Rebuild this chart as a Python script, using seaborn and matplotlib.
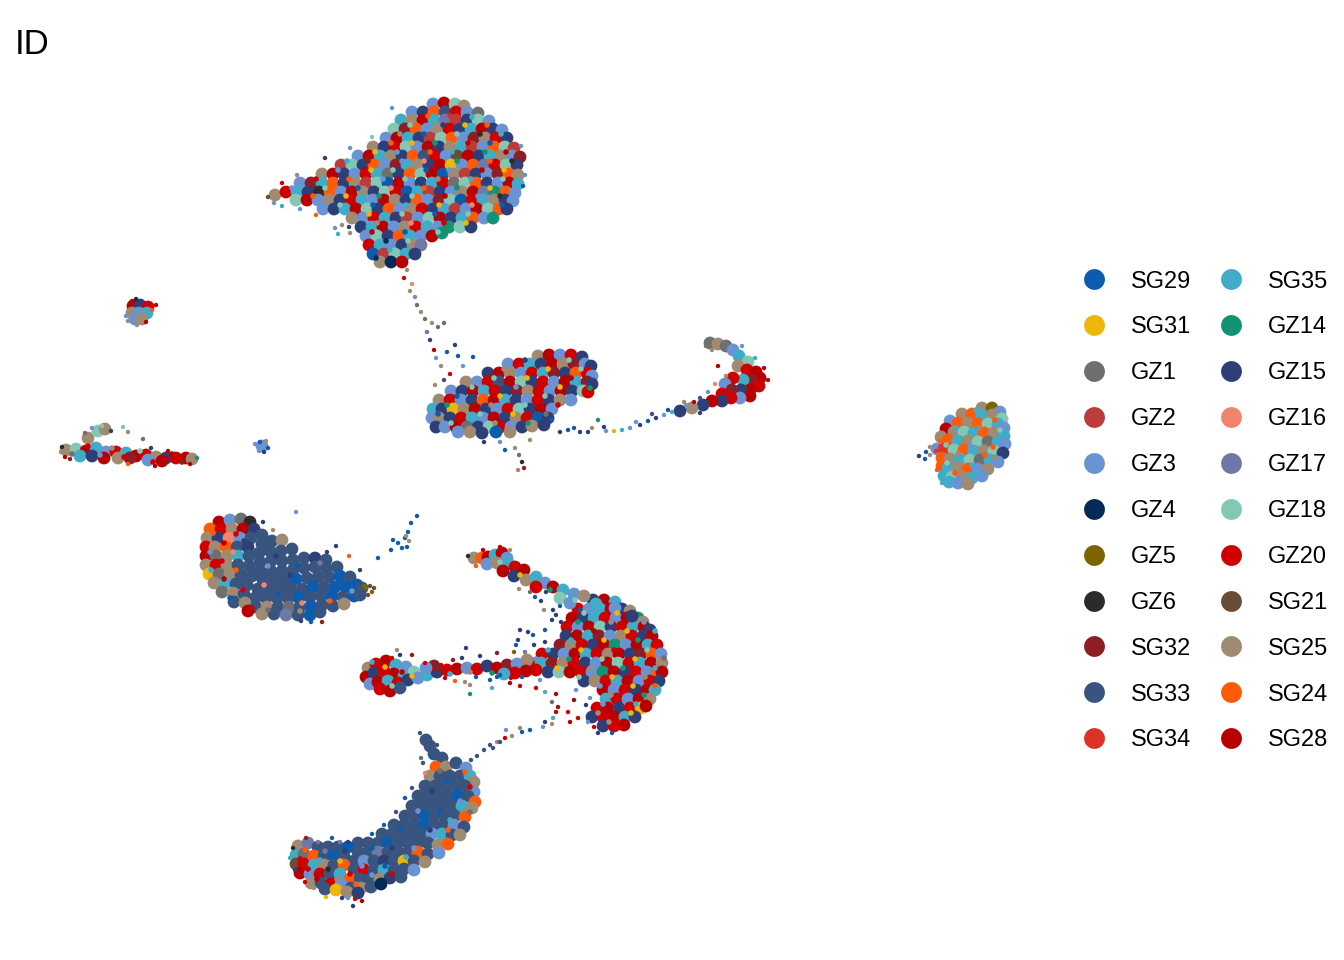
import matplotlib
matplotlib.use("Agg")
import matplotlib.pyplot as plt
import pandas as pd
import seaborn as sns

# ids in legend order
id_names = ["SG29", "SG31", "GZ1", "GZ2", "GZ3", "GZ4", "GZ5", "GZ6", "SG32", "SG33", "SG34",
            "SG35", "GZ14", "GZ15", "GZ16", "GZ17", "GZ18", "GZ20", "SG21", "SG25", "SG24", "SG28"]
id_colors = ["#0B5CAD", "#EDB60B", "#6F6F6F", "#BC3C3C", "#6A93D4", "#042B57", "#7C6500", "#2B2B2B",
             "#8E1D25", "#3A5480", "#DD3226", "#40ACC8", "#129474", "#2E3F78", "#F0856C", "#7079A6",
             "#83C8B4", "#D00000", "#674C36", "#A08A72", "#FF5A0A", "#B80000"]

top_blob = [
(433,104,4),(444,103,21),(455,104,16),(464,106,19),
(412,112,4),(423,112,13),(434,112,20),(445,112,9),(456,112,17),(467,112,4),(478,113,2),
(401,120,11),(412,120,19),(423,120,21),(434,120,11),(445,120,15),(456,120,3),(467,120,13),(478,120,16),(489,121,4),
(394,129,16),(405,129,8),(416,129,20),(427,129,4),(438,129,19),(449,129,17),(460,129,13),(471,129,11),(482,129,21),(493,129,13),(502,130,4),
(386,138,4),(397,138,21),(408,138,11),(419,138,13),(430,138,3),(441,138,16),(452,138,20),(463,138,4),(474,138,8),(485,138,19),(496,138,17),(507,138,13),
(373,147,19),(384,147,13),(395,147,17),(406,147,16),(417,147,4),(428,147,21),(439,147,13),(450,147,19),(461,147,11),(472,147,3),(483,147,4),(494,147,20),(505,147,16),(514,148,3),
(358,156,4),(369,156,21),(380,156,11),(391,156,19),(402,156,13),(413,156,20),(424,156,9),(435,156,17),(446,156,4),(457,156,18),(468,156,21),(479,156,13),(490,156,11),(501,156,19),(512,156,4),(520,157,8),
(341,165,3),(352,165,16),(363,165,13),(374,165,20),(385,165,4),(396,165,8),(407,165,11),(418,165,19),(429,165,13),(440,165,21),(451,165,1),(462,165,4),(473,165,20),(484,165,15),(495,165,17),(506,165,16),(517,165,13),
(322,174,19),(333,174,21),(344,174,13),(355,174,4),(366,174,17),(377,174,11),(388,174,2),(399,174,13),(410,174,20),(421,174,16),(432,174,21),(443,174,0),(454,174,19),(465,174,3),(476,174,13),(487,174,4),(498,174,8),(509,174,20),(518,175,19),
(300,183,4),(311,183,8),(322,183,11),(333,183,20),(344,183,13),(355,183,19),(366,183,3),(377,183,16),(388,183,0),(399,183,21),(410,183,4),(421,183,13),(432,183,11),(443,183,17),(454,183,2),(465,183,16),(476,183,20),(487,183,13),(498,183,4),(509,183,21),(518,184,11),
(275,195,19),(286,192,17),(297,192,11),(308,192,13),(319,192,7),(330,192,20),(341,192,4),(352,192,21),(363,192,19),(374,192,13),(385,192,16),(396,192,17),(407,192,0),(418,192,11),(429,192,3),(440,192,13),(451,192,4),(462,192,19),(473,192,21),(484,192,15),(495,192,12),(506,192,20),(515,193,4),
(296,200,16),(307,200,21),(318,200,4),(329,200,19),(340,200,13),(351,200,17),(362,200,11),(373,200,4),(384,200,21),(395,200,19),(406,200,13),(417,200,20),(428,200,4),(439,200,8),(450,200,16),(461,200,0),(472,200,17),(483,200,11),(494,200,19),(505,200,13),(513,201,4),
(323,209,4),(334,209,13),(345,209,11),(356,209,21),(367,209,16),(378,209,13),(389,209,20),(400,209,4),(411,209,19),(422,209,17),(433,209,13),(444,209,11),(455,209,3),(466,209,4),(477,209,21),(488,209,16),(499,209,20),(507,209,13),
(352,218,19),(363,218,4),(374,218,17),(385,218,11),(396,218,13),(407,218,3),(418,218,4),(429,218,16),(440,218,21),(451,218,13),(462,218,11),(473,218,20),(484,218,4),(493,218,12),
(361,227,13),(372,227,11),(383,227,21),(394,227,4),(405,227,19),(416,227,17),(427,227,11),(438,227,4),(449,227,12),(460,227,16),(471,227,13),
(366,236,4),(377,236,16),(388,236,13),(399,236,20),(410,236,11),(421,236,4),(432,236,21),(442,233,12),
(369,245,17),(380,245,11),(391,245,4),(402,245,13),(413,245,19),(421,245,15),
(373,254,0),(384,254,3),(395,254,16),(406,254,11),(415,254,13),
(380,262,19),(391,262,5),(402,262,21),
]

mid_blob = [
(538,356,19),(549,355,21),(560,355,4),(571,355,17),(582,357,13),
(508,364,4),(519,364,17),(530,364,11),(541,364,13),(552,364,21),(563,364,19),(574,364,8),(585,364,4),(591,366,13),
(488,373,13),(499,373,21),(510,373,19),(521,373,4),(532,373,17),(543,373,11),(554,373,8),(565,373,13),(576,373,20),(587,373,17),(592,376,4),
(466,382,19),(477,382,4),(488,382,17),(499,382,9),(510,382,21),(521,382,16),(532,382,13),(543,382,17),(554,382,4),(565,382,21),(576,382,11),(587,382,8),(592,384,13),
(451,391,4),(462,391,13),(473,391,21),(484,391,11),(495,391,17),(506,391,13),(517,391,8),(528,391,19),(539,391,17),(550,391,4),(561,391,21),(572,391,13),(583,391,16),(588,392,17),
(439,400,19),(450,400,17),(461,400,4),(472,400,13),(483,400,20),(494,400,21),(505,400,11),(516,400,13),(527,400,4),(538,400,17),(549,400,13),(560,400,19),(571,400,4),
(433,409,11),(442,409,13),(453,409,1),(464,409,19),(475,409,21),(486,409,13),(497,409,4),(508,409,17),(519,409,16),(530,409,13),(541,409,21),(552,409,4),
(432,418,4),(439,418,19),(450,418,13),(461,418,17),(472,418,11),(483,418,4),(494,418,21),(505,418,13),(516,418,19),(527,418,17),(538,418,0),(548,418,13),
(436,427,13),(445,427,4),(456,427,21),(467,427,2),(478,427,13),(489,427,16),(500,427,17),(511,427,4),(522,427,13),(532,426,19),(544,425,13),
(458,432,4),(470,432,19),(482,433,13),(496,432,0),(510,432,19),
]

hook_blob = [
(710,343,2),(718,344,19),(726,346,2),(733,350,4),(739,356,11),(748,362,16),
(738,366,19),(747,370,17),(756,372,21),(760,378,21),(752,380,8),(743,380,11),(733,378,17),(725,384,4),
(759,386,17),(750,390,21),(741,390,13),(732,390,8),(722,394,17),
(750,396,21),(740,398,4),(731,398,17),(722,401,13),(712,401,21),(703,405,13),(692,408,19),(680,411,13),
]

arch_body = [
(593,600,13),(604,600,21),(615,602,11),
(578,609,17),(589,609,4),(600,609,11),(611,609,21),(622,609,13),(630,611,19),
(572,618,21),(583,618,13),(594,618,11),(605,618,17),(616,618,4),(627,618,21),(638,618,12),(643,622,19),
(567,627,17),(578,627,4),(589,627,21),(600,627,16),(611,627,13),(622,627,17),(633,627,11),(644,627,21),(650,630,13),
(566,636,13),(577,636,21),(588,636,11),(599,636,8),(610,636,4),(621,636,19),(632,636,17),(643,636,13),(652,636,21),
(560,645,8),(571,645,19),(582,645,17),(593,645,13),(604,645,21),(615,645,12),(626,645,4),(637,645,21),(648,645,11),(657,645,17),
(542,654,17),(553,654,13),(564,654,4),(575,654,21),(586,654,11),(597,654,17),(608,654,19),(619,654,21),(630,654,13),(641,654,8),(652,654,20),(661,654,4),
(530,663,21),(541,663,11),(552,663,8),(563,663,19),(574,663,17),(585,663,13),(596,663,4),(607,663,21),(618,663,16),(629,663,17),(640,663,11),(651,663,21),(662,663,19),
(548,672,13),(559,672,16),(570,672,21),(581,672,17),(592,672,4),(603,672,12),(614,672,21),(625,672,13),(636,672,17),(647,672,4),(658,672,20),(662,672,21),
(584,681,13),(595,681,19),(606,681,17),(617,681,11),(628,681,21),(639,681,4),(650,681,17),(659,681,13),
(603,690,21),(614,690,4),(625,690,17),(636,690,13),(647,690,21),(655,690,11),
(606,699,11),(617,699,17),(628,699,4),(639,699,21),(650,699,19),
(597,708,17),(608,708,21),(619,708,13),(630,708,17),(641,708,1),(646,706,21),
(592,717,13),(603,717,17),(614,717,21),(625,717,11),(635,717,13),
(603,726,13),(614,726,17),(624,725,21),
]

arch_upper = [
(474,558,19),(482,558,20),(488,557,21),(495,555,11),(502,553,21),(507,558,4),
(487,564,4),(497,563,19),(508,563,11),(515,567,17),(503,571,21),(514,576,13),(524,570,21),
(526,580,19),(536,577,11),(545,583,4),(536,587,17),(553,587,21),(563,590,11),(574,594,4),
(584,596,19),(560,598,16),(570,603,4),(596,604,11),(615,608,4),(632,616,13),
]

arch_left = [
(368,668,19),(376,664,17),(386,661,21),(396,665,11),(406,667,4),
(366,677,21),(374,673,13),(384,671,17),(394,674,21),(404,676,11),(414,672,16),
(370,684,4),(378,682,21),(388,681,11),(398,683,17),(408,680,13),(418,678,4),
(380,689,17),(390,691,21),(400,688,9),(427,675,11),(437,672,13),(447,670,17),
(457,669,21),(467,668,4),(477,669,17),(487,666,13),(497,668,21),(507,665,8),
(517,664,4),(527,660,19),(536,670,17),(526,671,21),(515,673,17),(504,674,11),(434,666,8),(426,668,4),
]

left_blob = [
(219,522,21),(230,520,4),(241,519,2),(250,522,7),
(210,529,20),(221,529,17),(232,529,19),(243,529,21),(254,529,13),(262,535,9),
(207,538,19),(218,538,13),(229,538,14),(240,538,4),(251,538,9),(262,544,9),(272,541,9),(282,540,19),
(206,547,17),(215,547,19),(226,547,20),(237,547,9),(248,547,13),(259,553,9),(270,551,9),(281,551,9),(292,549,9),
(206,556,21),(216,556,2),(227,556,19),(238,556,11),(249,556,9),(260,562,9),(271,561,9),(282,561,9),(293,560,9),(304,558,9),(315,558,13),(326,560,9),
(206,565,19),(216,565,17),(227,565,19),(238,565,9),(249,566,9),(260,571,9),(271,571,9),(282,571,9),(293,570,9),(304,568,9),(315,567,9),(326,568,9),(337,567,9),
(209,574,1),(219,574,2),(230,574,19),(241,575,9),(252,576,9),(263,580,9),(274,580,9),(285,580,9),(296,579,0),(307,578,9),(318,577,9),(329,577,9),(340,576,0),(350,577,9),
(214,583,19),(225,583,11),(236,584,9),(247,585,9),(258,589,9),(269,589,9),(280,589,9),(291,589,9),(302,589,9),(313,587,0),(324,587,9),(335,587,0),(346,587,0),(357,585,0),(362,588,9),
(222,592,2),(233,593,19),(244,594,9),(255,598,9),(266,598,9),(277,598,9),(288,598,9),(299,598,0),(310,597,9),(321,596,9),(332,596,0),(343,597,9),(354,596,0),(360,595,9),
(234,602,9),(245,603,19),(256,607,9),(267,607,19),(278,607,9),(289,607,2),(300,607,9),(311,606,0),(322,605,9),(333,606,9),(344,604,19),
(248,611,21),(262,614,19),(274,614,9),(286,615,15),(298,615,9),(310,615,0),(320,612,9),
]

banana = [
(426,740,9),(430,746,9),(434,754,9),(442,758,9),
(436,767,20),(446,767,19),(456,763,9),(466,768,4),
(430,776,19),(440,776,9),(450,776,9),(460,776,9),(470,776,11),(474,782,19),
(425,786,9),(435,786,9),(445,786,9),(455,786,9),(465,786,9),(474,792,4),
(418,796,9),(428,796,9),(438,796,9),(448,796,9),(458,796,0),(468,796,9),(475,802,20),
(412,806,9),(422,806,9),(432,806,9),(442,806,9),(452,806,9),(462,806,11),(472,808,19),
(405,816,9),(415,816,9),(425,816,0),(435,816,9),(445,816,9),(455,816,9),(465,817,20),
(394,825,9),(404,825,9),(414,825,9),(424,825,0),(434,825,9),(444,825,9),(454,825,4),(464,827,9),
(382,834,9),(392,834,9),(402,834,9),(412,834,9),(422,834,9),(432,834,4),(442,834,11),(452,835,9),(460,835,19),
(358,843,9),(368,843,9),(378,843,9),(388,843,0),(398,843,9),(408,843,9),(418,843,9),(428,843,9),(438,845,19),(448,844,20),
(298,846,19),(308,843,15),(318,847,9),(328,847,9),(338,847,9),(348,847,0),(358,852,9),(368,852,9),(378,852,15),(388,852,9),(398,852,9),(408,852,9),(418,852,20),(428,854,9),(439,853,4),
(296,855,11),(304,854,2),(314,856,20),(324,856,9),(334,856,0),(344,856,9),(354,861,9),(364,861,4),(374,861,9),(384,861,13),(394,861,9),(404,861,1),(414,861,9),(425,862,19),
(296,864,18),(304,864,17),(314,865,11),(324,865,19),(334,865,9),(344,865,20),(354,870,9),(364,870,17),(374,870,9),(384,870,11),(394,870,9),(404,869,9),(414,870,4),
(300,873,21),(310,874,4),(320,874,17),(330,874,9),(340,874,11),(350,879,20),(360,879,9),(370,879,9),(380,879,19),(390,878,13),(401,877,9),
(311,883,19),(321,883,9),(331,884,17),(341,884,4),(351,888,9),(361,888,19),(371,887,9),(381,884,5),
(325,889,9),(336,890,1),(347,892,19),(358,893,13),
]

right_blob = [
(982,408,19),(992,408,6),(1000,412,4),
(962,414,19),(972,414,20),(982,415,11),(992,415,19),(1002,419,16),
(950,421,4),(958,423,20),(968,423,19),(978,424,20),(988,424,16),(998,424,11),(1004,428,4),
(946,429,21),(954,432,19),(964,432,16),(974,433,11),(984,433,20),(994,433,19),(1004,436,11),
(941,437,19),(948,440,20),(958,441,11),(968,441,19),(978,442,16),(988,442,2),(998,442,11),(1005,444,4),
(937,449,4),(944,449,10),(954,450,16),(964,450,20),(974,451,11),(984,451,19),(994,451,16),(1003,453,13),
(942,458,20),(950,459,19),(960,459,11),(970,460,16),(980,460,2),(990,460,11),(998,462,4),
(942,466,20),(948,468,11),(958,468,19),(968,469,20),(978,469,4),(988,469,19),
(944,476,11),(952,477,16),(962,477,19),(972,478,11),(982,476,4),
(949,482,11),(958,483,4),(968,484,19),
]

left_streak = [
(66,450,19),(76,449,16),(86,451,21),(96,448,11),(106,452,4),(116,452,17),(126,453,11),(136,456,21),
(146,455,17),(156,457,19),(166,458,13),(176,458,17),(186,458,21),(192,459,19),
(80,456,11),(92,456,13),(104,458,21),(118,458,19),(130,458,8),(148,460,4),(162,461,21),
(88,438,19),(98,431,16),(105,429,19),
(133,306,21),(140,305,13),(148,307,17),(132,313,19),(139,313,4),(147,313,11),(135,319,4),(142,319,19),
(262,446,4),
]

# small stray cells, drawn at the true dot size
strays = [
(268,197,18),(274,203,4),(282,206,11),(300,209,4),(316,215,20),(335,228,4),(342,225,19),(350,233,19),(338,234,11),(349,227,13),
(525,175,4),(523,186,0),(521,146,4),(392,108,4),(372,137,16),(350,148,4),(325,158,13),(297,175,19),(282,183,17),
(407,270,19),(404,278,17),(412,284,14),(410,291,19),(415,297,4),(417,305,2),(421,312,19),(425,319,2),(432,323,19),(444,323,2),(438,327,2),(427,332,15),
(430,340,13),(434,350,21),(436,358,4),(441,366,19),(447,352,0),(458,356,0),(450,374,17),(444,380,9),(435,385,19),(463,366,4),(455,345,13),(473,357,0),
(500,442,4),(515,448,19),(519,455,2),(522,462,7),(518,470,19),(524,468,8),(484,442,13),(505,450,0),(530,440,19),
(598,420,12),(552,420,0),(606,431,4),(614,431,1),(622,430,11),(630,428,4),(640,425,13),(648,421,0),(656,418,13),(664,415,4),(672,412,11),(686,405,4),(694,402,21),(700,398,9),(708,392,4),(715,384,14),(726,376,19),(718,366,21),
(560,432,13),(568,430,0),(580,432,13),(592,428,19),(604,427,13),(636,422,4),(652,414,9),(668,410,0),(684,402,19),
(706,346,2),(712,350,19),(742,346,4),(755,358,11),(764,368,21),(768,380,17),(700,413,13),(588,432,13),(574,428,0),
(468,556,7),(483,550,21),(500,547,17),(510,550,19),(476,566,20),(519,589,19),(530,592,2),(535,597,0),(546,592,13),(553,610,13),(541,601,13),(560,606,0),(572,598,11),(544,610,19),(580,610,0),
(552,620,13),(545,630,0),(556,615,13),(528,632,13),(533,635,0),(520,630,13),(516,645,0),(525,652,15),(534,645,13),(545,642,13),(561,622,13),(518,640,13),
(466,648,13),(400,655,13),(412,655,8),(397,650,19),(392,658,17),(425,663,17),(441,665,17),(453,660,8),(462,658,13),(480,656,13),(497,653,8),(514,652,6),
(445,678,17),(455,681,20),(465,682,19),(470,685,19),(476,677,0),(490,680,0),(497,677,0),(500,675,0),(492,688,11),(511,678,17),(520,686,17),(510,683,21),(522,677,0),(470,694,12),(536,688,17),(540,680,4),
(556,694,21),(552,702,2),(545,692,11),(576,690,4),(590,698,4),(574,700,21),(568,712,17),(578,718,17),(586,705,13),(570,722,21),(556,712,21),(594,727,17),(588,722,4),(598,733,13),(612,733,0),(620,728,17),
(558,707,21),(552,724,19),(543,727,4),(530,730,0),(522,732,0),(512,736,19),(505,738,17),(497,742,19),(506,730,4),(520,728,19),(490,745,9),(484,750,9),(477,756,9),(471,760,9),(500,742,9),(493,748,9),(545,722,13),(553,718,11),
(420,733,9),(428,737,9),(427,743,9),(437,745,9),(432,757,0),(423,763,9),(421,758,2),(425,773,14),
(412,788,9),(405,798,0),(396,812,9),(384,825,0),(372,834,0),(348,842,13),(340,842,15),(332,838,0),(318,842,15),(306,838,8),(293,848,7),(290,858,11),(295,870,13),
(348,898,4),(355,899,17),(362,901,21),(353,906,13),(342,898,13),(326,897,1),(314,888,19),(305,882,17),
(919,456,13),(925,459,0),(930,455,19),(936,451,10),(930,447,19),(926,452,0),(940,441,20),(943,472,11),(937,470,20),(942,483,11),
(62,447,7),(61,452,19),(65,457,21),(70,459,8),(85,433,2),(92,428,4),(102,426,16),(111,431,13),(123,427,16),(128,432,19),(143,439,2),(151,448,13),(168,451,21),(197,458,12),(190,464,21),(155,466,21),(128,464,20),
(132,301,21),(136,299,7),(156,305,21),(152,310,20),(126,316,4),(128,321,19),(137,325,19),(146,322,21),
(255,444,4),(260,442,0),(266,441,19),(268,448,0),(259,451,4),(264,452,13),
(417,516,0),(411,523,0),(408,532,0),(405,538,0),(398,543,0),(393,540,0),(402,548,0),(391,550,0),(407,547,0),(378,558,0),(406,536,19),(409,541,19),
(366,588,6),(370,586,18),(372,592,6),(368,595,18),(364,586,6),(374,588,18),(296,512,4),(263,522,13),(273,530,19),(336,546,13),(327,552,13),(349,556,20),(360,570,13),(322,622,8),(311,622,0),(301,621,13),
]

# finer cells sitting on top of the dense regions
grain = [
(428,116,20),(450,116,3),(472,117,11),(410,125,16),(443,125,13),(465,125,1),(487,125,20),(400,134,19),(424,134,0),(457,134,16),(480,134,7),(501,134,11),
(391,143,20),(412,143,1),(435,143,12),(468,143,17),(490,143,0),(375,152,1),(397,152,4),(430,152,20),(452,152,11),(485,152,12),(506,152,21),
(347,161,11),(368,161,8),(402,161,4),(424,161,14),(457,161,12),(490,161,20),(512,161,7),(338,170,4),(371,170,1),(393,170,16),(426,170,0),(449,170,4),(482,170,21),(504,170,1),
(316,179,17),(349,179,20),(383,179,4),(405,179,16),(438,179,19),(471,179,11),(503,179,16),(292,188,4),(325,188,16),(358,188,0),(391,188,14),(424,188,20),(457,188,12),(490,188,1),
(313,196,20),(346,196,1),(379,196,12),(412,196,16),(445,196,21),(478,196,4),(500,196,7),(340,205,16),(373,205,0),(406,205,11),(439,205,1),(472,205,14),(502,205,0),
(369,214,1),(402,214,16),(435,214,0),(468,214,16),(377,223,19),(411,223,14),(444,223,17),(466,223,1),(372,232,21),(405,232,0),(438,232,16),(386,241,5),(408,241,16),(390,250,11),(376,258,5),
(525,360,13),(569,360,16),(504,369,19),(548,369,1),(581,369,16),(494,378,16),(527,378,1),(571,378,21),(472,387,16),(516,387,4),(560,387,1),(457,396,0),(500,396,1),(545,396,16),(590,388,12),
(447,405,12),(491,405,19),(525,405,16),(558,405,17),(438,414,0),(480,414,16),(513,414,1),(546,414,2),(451,423,16),(495,423,19),(528,423,12),
(584,613,16),(617,613,1),(578,622,12),(611,622,19),(644,622,4),(594,631,21),(627,631,1),(655,631,11),(571,640,11),(604,640,1),(638,640,12),(548,650,11),(581,650,1),(614,650,17),(647,650,16),
(536,659,4),(569,659,12),(602,659,16),(635,659,1),(664,658,2),(557,668,1),(590,668,19),(623,668,12),(655,668,11),(579,677,16),(612,677,1),(645,677,19),(600,686,4),(633,686,1),(655,686,20),
(611,695,19),(644,695,12),(603,704,4),(636,704,11),(598,713,19),(631,713,1),(609,722,19),(500,562,16),(520,575,1),(550,590,12),(575,600,16),
(372,662,11),(385,667,1),(402,672,21),(392,686,16),(412,676,1),(450,674,11),(470,672,19),(492,673,12),
(213,533,20),(236,534,17),(224,543,21),(244,541,13),(210,552,4),(233,552,14),(222,561,17),(211,570,11),(236,570,20),(224,579,21),(243,590,17),(230,598,0),(252,608,17),(268,610,2),(300,611,19),
(276,556,13),(298,565,0),(320,563,15),(268,566,4),(290,575,13),(312,583,0),(342,582,0),(278,594,0),(302,603,14),(330,601,20),(352,591,4),(264,585,14),
(440,771,2),(465,772,20),(447,781,0),(470,787,17),(432,791,13),(460,801,4),(470,812,2),(440,811,0),(418,811,4),(450,820,11),(430,830,13),(400,830,0),(448,830,20),(414,848,4),(392,848,13),(372,848,0),
(305,850,20),(325,851,15),(345,851,13),(300,859,17),(320,860,11),(340,861,1),(362,866,4),(385,866,0),(406,857,11),(308,869,17),(328,869,7),(350,874,17),(372,875,4),(392,874,17),(317,879,21),(337,879,19),(356,884,20),
(976,410,11),(995,420,20),(956,428,11),(979,428,19),(1000,430,16),(946,445,16),(970,446,4),(993,447,20),(958,454,19),(985,455,20),(947,463,16),(972,465,11),(995,457,19),(955,473,20),(977,473,11),
(72,454,2),(88,446,17),(100,455,4),(112,448,19),(124,457,17),(140,451,16),(153,462,17),(172,454,21),(182,462,8),
]

clusters = [top_blob, mid_blob, hook_blob, arch_body, arch_upper, arch_left, left_blob, banana, right_blob, left_streak]

body = pd.DataFrame([p for c in clusters for p in c], columns=["umap1", "umap2", "idx"])
body["ID"] = [id_names[i] for i in body["idx"]]
extra = pd.DataFrame(strays, columns=["umap1", "umap2", "idx"])
extra["ID"] = [id_names[i] for i in extra["idx"]]
fine = pd.DataFrame(grain, columns=["umap1", "umap2", "idx"])
fine["ID"] = [id_names[i] for i in fine["idx"]]

sns.set_theme(style="white")
plt.rcParams["font.family"] = ["Liberation Sans", "DejaVu Sans"]

fig = plt.figure(figsize=(13.44, 9.6), dpi=100)
ax = fig.add_axes([0, 0, 1, 1])
palette = dict(zip(id_names, id_colors))

sns.scatterplot(data=body, x="umap1", y="umap2", hue="ID", hue_order=id_names, palette=palette,
                s=85, linewidth=0, ax=ax)
sns.scatterplot(data=extra, x="umap1", y="umap2", hue="ID", hue_order=id_names, palette=palette,
                s=10, linewidth=0, legend=False, ax=ax)
sns.scatterplot(data=fine, x="umap1", y="umap2", hue="ID", hue_order=id_names, palette=palette,
                s=16, linewidth=0, legend=False, ax=ax)

ax.set_xlim(0, 1344)
ax.set_ylim(960, 0)
ax.set_axis_off()

handles, labels = ax.get_legend_handles_labels()
for h in handles:
    h.set_markersize(15)
ax.legend(handles, labels, ncol=2, frameon=False, fontsize=17, labelcolor="black", loc="center left",
          bbox_to_anchor=(1070.4 / 1344, 1 - 511 / 960), borderaxespad=0, borderpad=0,
          labelspacing=1.012, handletextpad=0.57, columnspacing=0.68, handlelength=2.0)

ax.text(15, 45, "ID", fontsize=25, ha="left", va="center", color="black")

fig.savefig("out.png", dpi=100)
